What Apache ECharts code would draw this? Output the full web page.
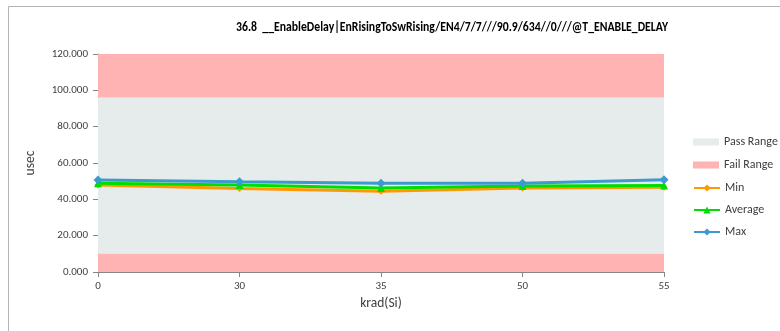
<!DOCTYPE html>
<html>
<head>
<meta charset="utf-8">
<script src="https://cdn.jsdelivr.net/npm/echarts@6/dist/echarts.min.js"></script>
<style>
html,body{margin:0;padding:0;background:#fff;}
#c{width:780px;height:331px;}
</style>
</head>
<body>
<div id="c"></div>
<script>
const categories = ['0', '30', '35', '50', '55'];
const minVals = [47.9, 46.0, 44.4, 46.3, 46.6];
const avgVals = [48.8, 47.9, 46.3, 47.4, 47.6];
const maxVals = [50.7, 49.7, 48.9, 48.9, 50.8];
const passRange = [10, 96];
const failRanges = [[0, 10], [96, 120]];
const yTicks = {min: 0, max: 120, interval: 20};
const titleText = '36.8  __EnableDelay|EnRisingToSwRising/EN4/7/7///90.9/634//0///@T_ENABLE_DELAY';

const FONT = 'Carlito, "Liberation Sans Narrow", Lato, sans-serif';
const TITLE_FONT = 'bold 13.5px ' + FONT;
const ctx = document.createElement('canvas').getContext('2d');
ctx.font = TITLE_FONT;
const titleW = ctx.measureText(titleText).width;
const titleScale = Math.min(1, 432 / titleW);

const chart = echarts.init(document.getElementById('c'), null, {renderer: 'canvas'});
chart.setOption({
  animation: false,
  backgroundColor: '#fff',
  graphic: [{
    type: 'rect', silent: true, z: -10,
    shape: {x: 8.5, y: 6.5, width: 800, height: 400},
    style: {fill: 'none', stroke: '#b3b3b3', lineWidth: 1}
  }, {
    type: 'text', silent: true,
    x: 452, y: 28, originX: 0, originY: 0, scaleX: titleScale,
    style: {text: titleText, font: TITLE_FONT, fill: '#000', align: 'center', verticalAlign: 'middle'}
  }],
  grid: {left: 98, right: 116, top: 54, bottom: 59, containLabel: false},
  legend: [{
    data: [{name: 'Pass Range', icon: 'rect'}, {name: 'Fail Range', icon: 'rect'}],
    orient: 'vertical', left: 688, top: 131, itemWidth: 26, itemHeight: 7, itemGap: 11,
    textStyle: {fontFamily: FONT, fontSize: 12, color: '#404040'}
  }, {
    data: ['Min', 'Average', 'Max'],
    orient: 'vertical', left: 688, top: 177, itemWidth: 26, itemHeight: 9, itemGap: 10,
    textStyle: {fontFamily: FONT, fontSize: 12, color: '#404040'}
  }],
  xAxis: {
    type: 'category', data: categories, boundaryGap: false,
    name: 'krad(Si)', nameLocation: 'middle', nameGap: 25,
    nameTextStyle: {fontFamily: FONT, fontSize: 13.5, color: '#404040'},
    axisLine: {lineStyle: {color: '#868686', width: 1}},
    axisTick: {show: true, alignWithLabel: true, length: 5, lineStyle: {color: '#868686'}},
    axisLabel: {fontFamily: FONT, fontSize: 11, color: '#404040', margin: 9},
    splitLine: {show: false}
  },
  yAxis: {
    type: 'value', min: yTicks.min, max: yTicks.max, interval: yTicks.interval,
    name: 'usec', nameLocation: 'middle', nameGap: 60,
    nameTextStyle: {fontFamily: FONT, fontSize: 13.5, color: '#404040'},
    axisLine: {show: true, lineStyle: {color: '#868686', width: 1}},
    axisTick: {show: true, length: 5, lineStyle: {color: '#868686'}},
    axisLabel: {fontFamily: FONT, fontSize: 11, color: '#404040', margin: 10,
      formatter: v => v.toFixed(3)},
    splitLine: {show: false}
  },
  series: [{
    name: 'Pass Range', type: 'line', data: [], itemStyle: {color: '#e6ebeb'},
    markArea: {silent: true, itemStyle: {color: '#e6ebeb'},
      data: [[{yAxis: passRange[0]}, {yAxis: passRange[1]}]]}
  }, {
    name: 'Fail Range', type: 'line', data: [], itemStyle: {color: '#ffb3b3'},
    markArea: {silent: true, itemStyle: {color: '#ffb3b3'},
      data: failRanges.map(r => [{yAxis: r[0]}, {yAxis: r[1]}])}
  }, {
    name: 'Min', type: 'line', data: minVals, symbol: 'diamond', symbolSize: 7,
    itemStyle: {color: '#ff9900'}, lineStyle: {color: '#ff9900', width: 3}, z: 3
  }, {
    name: 'Average', type: 'line', data: avgVals, symbol: 'triangle', symbolSize: 8,
    itemStyle: {color: '#00dd00'}, lineStyle: {color: '#00dd00', width: 3}, z: 4
  }, {
    name: 'Max', type: 'line', data: maxVals, symbol: 'diamond', symbolSize: 9,
    itemStyle: {color: '#3c9ad0'}, lineStyle: {color: '#3c9ad0', width: 3}, z: 5
  }]
});
</script>
</body>
</html>
